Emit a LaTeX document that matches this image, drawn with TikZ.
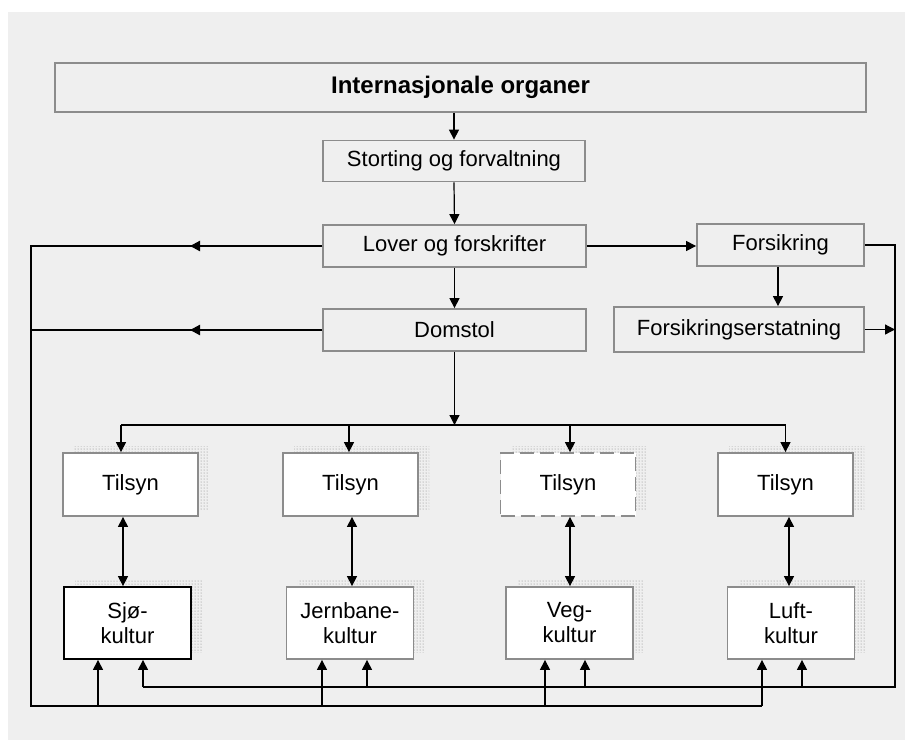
\documentclass[tikz,border=0pt]{standalone}
\usepackage{fontspec}
\setmainfont{Liberation Sans}
\usetikzlibrary{arrows.meta,patterns,shadows}
\definecolor{bggray}{HTML}{EFEFEF}
\definecolor{boxline}{HTML}{8C8C8C}
\begin{document}
\begin{tikzpicture}[x=1pt,y=-1pt,
    every node/.style={font=\fontsize{22}{25}\selectfont},
    box/.style={draw=boxline,line width=1.8pt,fill=bggray,inner sep=0pt,align=center},
    unit/.style={box,fill=white,general shadow={shadow xshift=11pt,shadow yshift=7pt,pattern=dots,pattern color=gray}},
    dashbox/.style={dash pattern=on 14pt off 6pt},
    wire/.style={line width=1.2pt},
    arr/.style={wire,-{Triangle[length=10pt,width=10pt]}},
    dbl/.style={wire,{Triangle[length=10pt,width=10pt]}-{Triangle[length=10pt,width=10pt]}}]
    \path[use as bounding box] (0,0) rectangle (905,740) ;
    \fill[bggray] (8,12) rectangle (905,740) ;
    \node[box,minimum width=811pt,minimum height=49pt,font=\bfseries\fontsize{24}{28}\selectfont] (intl) at (460.5,87.5) {Internasjonale organer} ;
    \node[box,minimum width=262pt,minimum height=41pt] (storting) at (454,161) {Storting og forvaltning} ;
    \node[box,minimum width=263pt,minimum height=42pt] (lover) at (454.5,246) {Lover og forskrifter} ;
    \node[box,minimum width=263pt,minimum height=42pt] (domstol) at (454.5,330) {Domstol} ;
    \node[box,minimum width=167pt,minimum height=42pt] (fors) at (780.5,245) {Forsikring} ;
    \node[box,minimum width=250pt,minimum height=45pt] (erst) at (739,329.5) {Forsikringserstatning} ;
    \foreach \x/\n/\s in {130.5/1/solid,350.5/2/solid,568/3/dashbox,785.5/4/solid}
      \node[unit,\s,minimum width=135pt,minimum height=63pt] (t\n) at (\x,484.5) {Tilsyn} ;
    \foreach \x/\n/\txt/\c in {127.5/1/Sjø/black,350/2/Jernbane/boxline,569.5/3/Veg/boxline,791/4/Luft/boxline}
      \node[unit,draw=\c,minimum width=127pt,minimum height=72pt] (k\n) at (\x,623) {\txt-\\kultur} ;
    \draw[arr] (storting.north |- intl.south) -- (storting.north) ;
    \draw[arr] (storting.south) -- (lover.north) ;
    \draw[arr] (lover.south) -- (domstol.north) ;
    \draw[arr] (lover.east) -- (lover.east -| fors.west) ;
    \draw[arr] (fors.south -| 778,0) -- (erst.north -| 778,0) ;
    \coordinate (split) at (454.5,425) ;
    \draw[arr] (domstol.south) -- (split) ;
    \foreach \x/\n in {121/1,349/2,570/3,785.5/4} {
      \coordinate (d\n) at (\x,425) ;
      \draw[arr] (d\n) -- (d\n |- t\n.north) ;
    }
    \draw[wire] (d1) -- (d4) ;
    \foreach \dx/\n in {-7.5/1,1.5/2,2/3,3.5/4}
      \draw[dbl] ([xshift=\dx pt]t\n.south) -- ([xshift=\dx pt]t\n.south |- k\n.north) ;
    \coordinate (ltop) at (31,246) ;
    \coordinate (lbot) at (31,706) ;
    \foreach \x/\n in {98/1,322/2,545/3,762/4} {
      \coordinate (u\n) at (\x,706) ;
      \draw[arr] (u\n) -- (u\n |- k\n.south) ;
    }
    \draw[wire] (lover.west) -- (ltop) -- (lbot) -- (u4) ;
    \draw[wire] (domstol.west) -- (domstol.west -| ltop) ;
    \coordinate (la) at (256,246) ;
    \coordinate (lb) at (190,246) ;
    \coordinate (da) at (256,330) ;
    \coordinate (db) at (190,330) ;
    \draw[arr,line width=2.2pt] (la) -- (lb) ;
    \draw[arr,line width=2.2pt] (da) -- (db) ;
    \coordinate (rtop) at (895,245) ;
    \coordinate (rbot) at (895,687) ;
    \foreach \x/\n in {143/1,367/2,585/3,802/4} {
      \coordinate (v\n) at (\x,687) ;
      \draw[arr] (v\n) -- (v\n |- k\n.south) ;
    }
    \draw[wire] (fors.east) -- (rtop) -- (rbot) -- (v1) ;
    \draw[arr] (erst.east) -- (erst.east -| rtop) ;
  \end{tikzpicture}
\end{document}
